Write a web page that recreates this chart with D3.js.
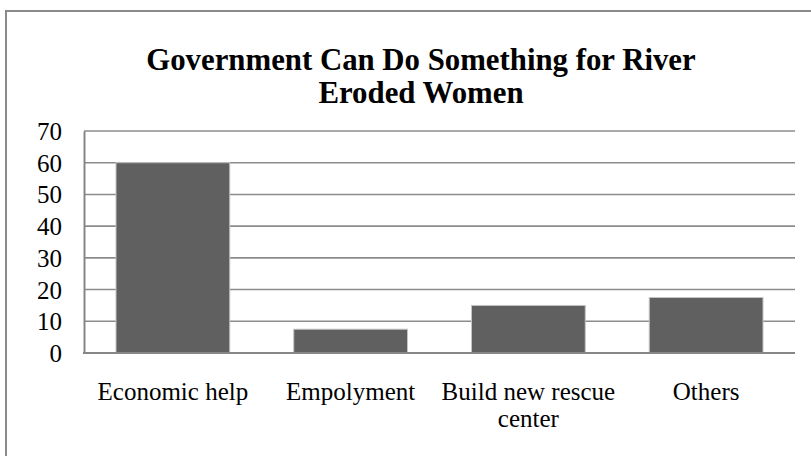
<!DOCTYPE html>
<html>
<head>
<meta charset="utf-8">
<script src="https://cdn.jsdelivr.net/npm/d3@7"></script>
<style>
  html, body { margin: 0; padding: 0; background: #fff; }
  svg { display: block; }
  text { font-family: "Liberation Serif", "Times New Roman", serif; fill: #000; }
</style>
</head>
<body>
<svg id="chart" width="811" height="456"></svg>
<script>
const titleLines = ["Government Can Do Something for River", "Eroded Women"];
const categories = ["Economic help", "Empolyment", "Build new rescue center", "Others"];
const categoryLines = [["Economic help"], ["Empolyment"], ["Build new rescue", "center"], ["Others"]];
const values = [60, 7.5, 15, 17.5];
const yTicks = [0, 10, 20, 30, 40, 50, 60, 70];

const svg = d3.select("#chart");
const W = 811, H = 456;
const margin = { left: 84, right: 16, top: 131, bottom: 103 };
const plotRight = W - margin.right;
const plotBottom = H - margin.bottom;

svg.append("rect").attr("width", W).attr("height", H).attr("fill", "#fff");
// outer frame
svg.append("rect")
  .attr("x", 6).attr("y", 11).attr("width", W + 10).attr("height", H + 10)
  .attr("fill", "none").attr("stroke", "#8a8a8a").attr("stroke-width", 2);

const x = d3.scaleBand().domain(categories).range([margin.left, plotRight])
  .paddingInner(0.36).paddingOuter(0.18);
const y = d3.scaleLinear().domain([0, 70]).range([plotBottom, margin.top]);

// gridlines
svg.append("g").selectAll("line").data(yTicks.filter(d => d > 0)).join("line")
  .attr("x1", margin.left).attr("x2", plotRight)
  .attr("y1", d => y(d)).attr("y2", d => y(d))
  .attr("stroke", "#8c8c8c").attr("stroke-width", 1.6);

// bars
svg.append("g").selectAll("rect").data(values).join("rect")
  .attr("x", (d, i) => x(categories[i]))
  .attr("width", x.bandwidth())
  .attr("y", d => y(d))
  .attr("height", d => y(0) - y(d))
  .attr("fill", "#606060")
  .attr("stroke", "#c4c4c4").attr("stroke-width", 1);

// y axis
const yAxis = d3.axisLeft(y).tickValues(yTicks).tickSize(0).tickPadding(22).tickFormat(d3.format("d"));
const gy = svg.append("g").attr("transform", `translate(${margin.left},0)`).call(yAxis);
gy.attr("font-family", null).attr("font-size", null);
gy.select(".domain").attr("stroke", "#868686").attr("stroke-width", 2);
gy.selectAll("text").attr("font-size", 25).attr("dy", "0.34em");

// baseline
svg.append("line").attr("x1", margin.left - 1).attr("x2", plotRight)
  .attr("y1", y(0)).attr("y2", y(0)).attr("stroke", "#868686").attr("stroke-width", 2);

// category labels
const gx = svg.append("g");
categories.forEach((c, i) => {
  const t = gx.append("text")
    .attr("x", x(c) + x.bandwidth() / 2)
    .attr("y", 400)
    .attr("text-anchor", "middle")
    .attr("font-size", 25);
  categoryLines[i].forEach((ln, j) => {
    t.append("tspan").attr("x", x(c) + x.bandwidth() / 2).attr("dy", j === 0 ? 0 : 27).text(ln);
  });
});

// title
const title = svg.append("text").attr("text-anchor", "middle").attr("font-size", 30.8).attr("font-weight", "bold");
titleLines.forEach((ln, j) => {
  title.append("tspan").attr("x", 421).attr("y", 70 + j * 33).text(ln);
});
</script>
</body>
</html>
